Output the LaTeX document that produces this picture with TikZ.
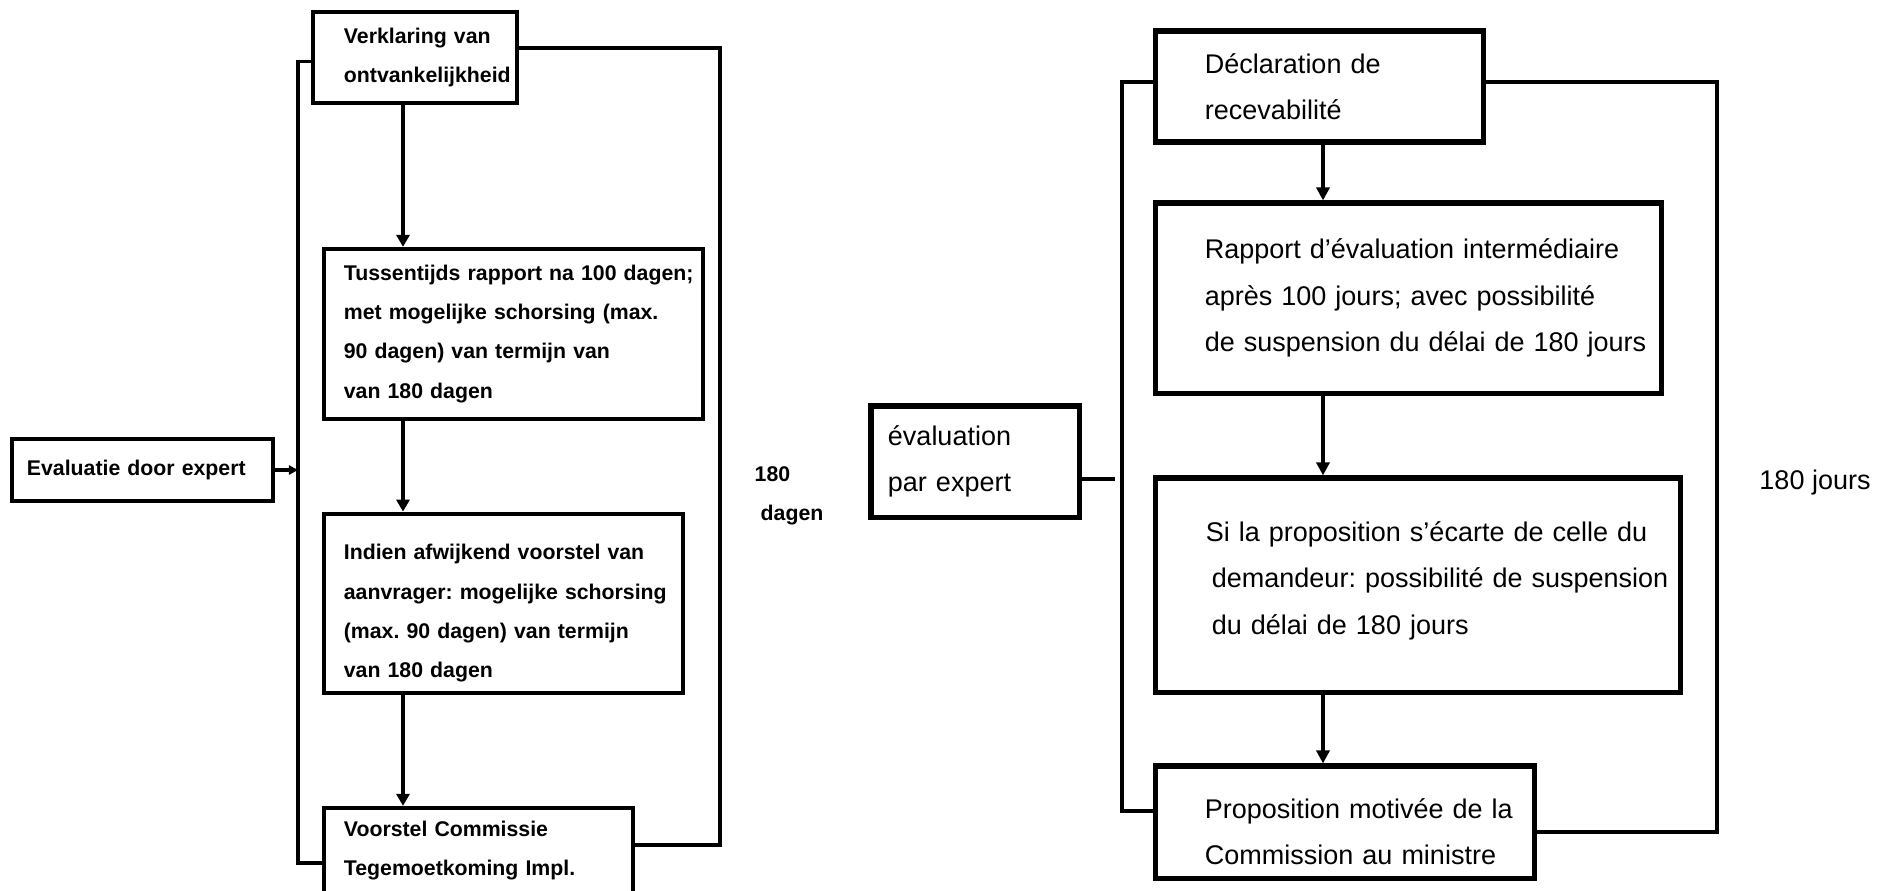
\documentclass[tikz,border=0pt]{standalone}
\usepackage{fontspec}
\setmainfont{Liberation Sans}
\usetikzlibrary{arrows.meta,calc}
\frenchspacing

\begin{document}
\begin{tikzpicture}[x=0.01cm,y=-0.01cm]
  \tikzset{ nl/.style={draw,line width=1.2pt,inner xsep=0pt,font=\fontsize{6.05}{11.1}\selectfont\bfseries},
    fr/.style={draw,line width=1.45pt,inner xsep=0pt,font=\fontsize{7.68}{13.2}\selectfont},
    ind/.style={execute at begin node={\frenchspacing\leftskip=#1}},
    nllijn/.style={line width=0.95pt},
    frlijn/.style={line width=1.15pt},
    nlpijl/.style={nllijn,-{Triangle[length=0.12cm,width=0.13cm]}},
    frpijl/.style={frlijn,-{Triangle[length=0.13cm,width=0.13cm]}},
  }
  \useasboundingbox (0,0) rectangle (1888,890);

  % Nederlandse versie
  \node[nl,text width=2.04cm,minimum height=0.91cm,ind=0.31cm] (verkl) at (415,57.5) {Verklaring van\\ontvankelijkheid};
  \node[nl,text width=3.79cm,minimum height=1.70cm,ind=0.2cm] (tuss) at (513.5,334) {Tussentijds rapport na 100 dagen;\\met mogelijke schorsing (max.\\90 dagen) van termijn van\\van 180 dagen};
  \node[nl,text width=3.59cm,minimum height=1.73cm,ind=0.2cm] (indien) at (503.5,603.5) {\rule{0pt}{0.345cm}Indien afwijkend voorstel van\\aanvrager: mogelijke schorsing\\(max. 90 dagen) van termijn\\van 180 dagen};
  \node[nl,text width=3.09cm,minimum height=0.85cm,ind=0.2cm] (voorstel) at (478.5,850.5) {Voorstel Commissie\\Tegemoetkoming Impl.};
  \node[nl,text width=2.61cm,minimum height=0.62cm,ind=0.15cm] (evexp) at (142.5,470) {Evaluatie door expert};
  \node[font=\fontsize{6.05}{11.1}\selectfont\bfseries,align=left,anchor=west,inner sep=0pt] (dagen) at (754,496) {180\\\hspace*{0.06cm}dagen};

  \coordinate (asL) at (403,0);
  \coordinate (lijnL) at (298,470);
  \coordinate (lijnR) at (720,470);

  % de verbindingen
  \draw[nlpijl] (verkl.south -| asL) -- (tuss.north -| asL);
  \draw[nlpijl] (tuss.south -| asL) -- (indien.north -| asL);
  \draw[nlpijl] (indien.south -| asL) -- (voorstel.north -| asL);
  \draw[nllijn] ($(verkl.west)+(0,4)$) -| (lijnL) |- ($(voorstel.west)+(0,12.5)$);
  \draw[nllijn] ($(verkl.east)+(0,-9.5)$) -| (lijnR) |- ($(voorstel.east)+(0,-5.5)$);
  \draw[nllijn,-{Triangle[length=0.09cm,width=0.09cm]}] (evexp) -- (evexp -| lijnL);

  % version francaise
  \node[fr,text width=3.27cm,minimum height=1.11cm,ind=0.49cm] (decl) at (1319.5,86.5) {Déclaration de\\recevabilité};
  \node[fr,text width=5.05cm,minimum height=1.90cm,ind=0.49cm] (rapp) at (1408.5,298) {Rapport d’évaluation intermédiaire\\après 100 jours; avec possibilité\\de suspension du délai de 180 jours};
  \node[fr,text width=5.24cm,minimum height=2.14cm,ind=0.50cm] (sila) at (1418,585) {Si la proposition s’écarte de celle du\\\hspace*{0.06cm}demandeur: possibilité de suspension\\\hspace*{0.06cm}du délai de 180 jours\rule[-0.14cm]{0pt}{0pt}};
  \node[fr,text width=3.78cm,minimum height=1.12cm,ind=0.49cm] (propos) at (1345,822) {\rule{0pt}{0.39cm}Proposition motivée de la\\Commission au ministre};
  \node[fr,text width=2.08cm,minimum height=1.11cm,ind=0.17cm] (evpar) at (975,461.5) {évaluation\\par expert};
  \node[font=\fontsize{7.68}{13.2}\selectfont] (jours) at (1815,482) {180 jours};

  \coordinate (asR) at (1323,0);
  \coordinate (lijnRL) at (1122,479);
  \coordinate (lijnRR) at (1717,479);

  % les connexions
  \draw[frpijl] (decl.south -| asR) -- (rapp.north -| asR);
  \draw[frpijl] (rapp.south -| asR) -- (sila.north -| asR);
  \draw[frpijl] (sila.south -| asR) -- (propos.north -| asR);
  \draw[frlijn] ($(decl.west)+(0,-4.5)$) -| (lijnRL) |- ($(propos.west)+(0,-11)$);
  \draw[frlijn] ($(decl.east)+(0,-4.5)$) -| (lijnRR) |- ($(propos.east)+(0,10)$);
  \draw[frlijn,shorten >=0.07cm] ($(evpar.east)+(0,17.5)$) coordinate (e1) -- (e1 -| lijnRL);
\end{tikzpicture}
\end{document}
